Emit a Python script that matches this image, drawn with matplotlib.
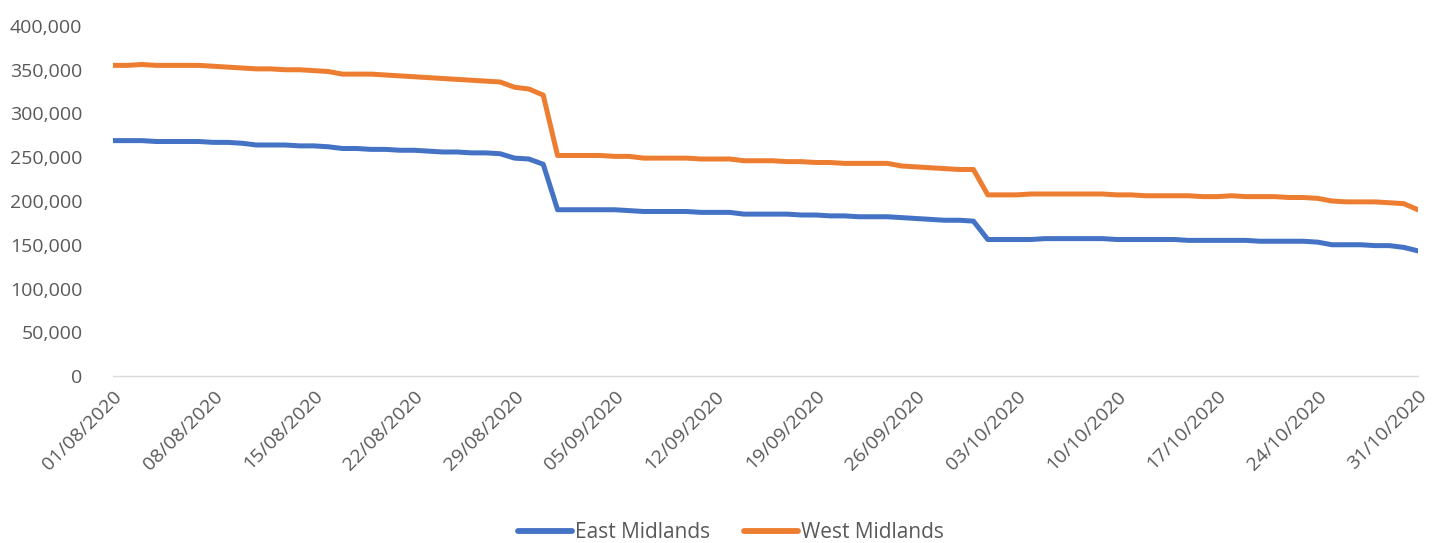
import numpy as np
import pandas as pd
import matplotlib
matplotlib.use("Agg")
import matplotlib.pyplot as plt
from matplotlib.ticker import FuncFormatter

# daily values, 01/08/2020 - 31/10/2020 (thousands)
dates = pd.date_range("2020-08-01", "2020-10-31", freq="D")

east_midlands = [
    269, 269, 269, 268, 268, 268, 268, 267, 267, 266,
    264, 264, 264, 263, 263, 262, 260, 260, 259, 259,
    258, 258, 257, 256, 256, 255, 255, 254, 249, 248,
    242, 190, 190, 190, 190, 190, 189, 188, 188, 188,
    188, 187, 187, 187, 185, 185, 185, 185, 184, 184,
    183, 183, 182, 182, 182, 181, 180, 179, 178, 178,
    177, 156, 156, 156, 156, 157, 157, 157, 157, 157,
    156, 156, 156, 156, 156, 155, 155, 155, 155, 155,
    154, 154, 154, 154, 153, 150, 150, 150, 149, 149,
    147, 143,
]
west_midlands = [
    355, 355, 356, 355, 355, 355, 355, 354, 353, 352,
    351, 351, 350, 350, 349, 348, 345, 345, 345, 344,
    343, 342, 341, 340, 339, 338, 337, 336, 330, 328,
    321, 252, 252, 252, 252, 251, 251, 249, 249, 249,
    249, 248, 248, 248, 246, 246, 246, 245, 245, 244,
    244, 243, 243, 243, 243, 240, 239, 238, 237, 236,
    236, 207, 207, 207, 208, 208, 208, 208, 208, 208,
    207, 207, 206, 206, 206, 206, 205, 205, 206, 205,
    205, 205, 204, 204, 203, 200, 199, 199, 199, 198,
    197, 190,
]
east_midlands = np.array(east_midlands) * 1000
west_midlands = np.array(west_midlands) * 1000

plt.rcParams["font.family"] = ["Open Sans", "DejaVu Sans"]
text_col = "#595959"

fig = plt.figure(figsize=(14.35, 5.43), dpi=100)
ax = fig.add_axes([113 / 1435, 167 / 543, 1305 / 1435, 350 / 543])

ax.plot(dates, east_midlands, color="#4472C4", lw=3.6, solid_capstyle="round",
        solid_joinstyle="round", label="East Midlands")
ax.plot(dates, west_midlands, color="#ED7D31", lw=3.6, solid_capstyle="round",
        solid_joinstyle="round", label="West Midlands")

ax.set_xlim(dates[0], dates[-1])
ax.set_ylim(0, 400000)
ax.set_yticks(np.arange(0, 400001, 50000))
ax.yaxis.set_major_formatter(FuncFormatter(lambda v, p: f"{int(v):,}"))

tick_dates = dates[::7]
ax.set_xticks(tick_dates)
ax.set_xticklabels([d.strftime("%d/%m/%Y") for d in tick_dates], rotation=45,
                   ha="right", rotation_mode="anchor")

for s in ["top", "right", "left"]:
    ax.spines[s].set_visible(False)
ax.spines["bottom"].set_color("#D9D9D9")
ax.spines["bottom"].set_linewidth(1.0)
ax.tick_params(axis="both", length=0, labelsize=14, labelcolor=text_col)
ax.tick_params(axis="y", pad=22)
ax.tick_params(axis="x", pad=8)

leg = fig.legend(loc="center", bbox_to_anchor=(731 / 1435, 10 / 543), ncol=2,
                 frameon=False, fontsize=15, handlelength=2.6, columnspacing=1.6,
                 handletextpad=0.15, borderpad=0)
for t in leg.get_texts():
    t.set_color(text_col)
for h in leg.legend_handles:
    h.set_linewidth(4.2)
    h.set_solid_capstyle("round")

fig.savefig("out.png", dpi=100)
